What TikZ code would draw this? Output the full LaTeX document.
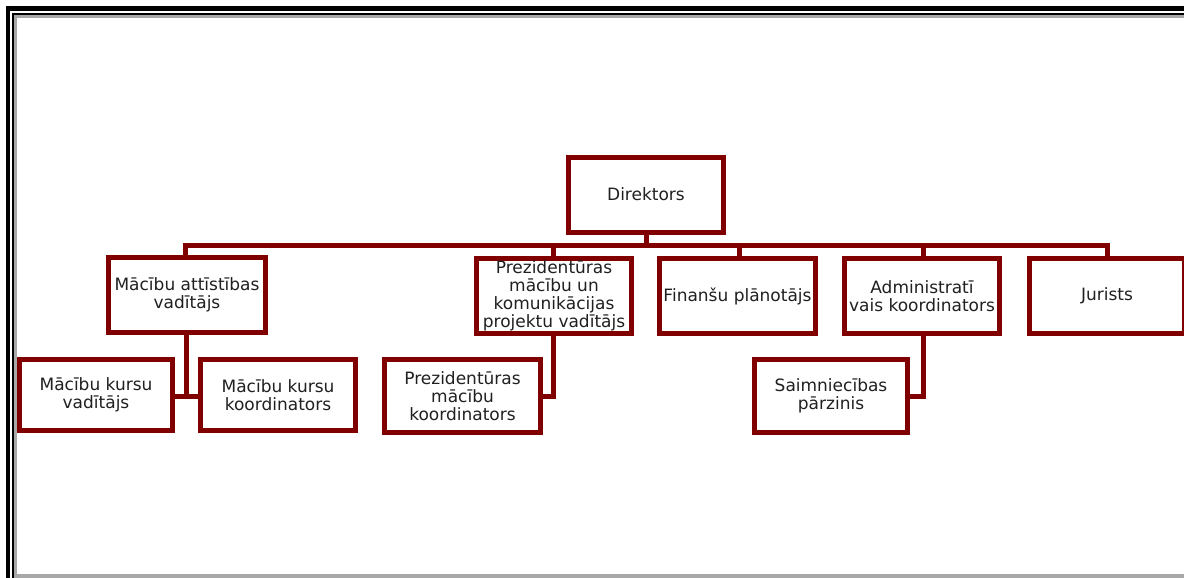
\documentclass[tikz,border=0pt]{standalone}
\usepackage{fontspec}
\setmainfont{DejaVu Sans}
\usetikzlibrary{calc}

\definecolor{boxred}{HTML}{800000}
\definecolor{framegray}{HTML}{A8A8A8}
\definecolor{txtgray}{HTML}{202020}

\tikzset{
    unit/.style={draw=boxred, line width=5pt, fill=white, rectangle,
        minimum width=155pt, minimum height=75pt, inner sep=0.5pt,
        align=center, text=txtgray,
        font=\fontsize{17}{18}\selectfont},
    link/.style={draw=boxred, line width=5pt},
}

\begin{document}
\begin{tikzpicture}[x=1pt, y=-1pt]
    \useasboundingbox (0,0) rectangle (1184,578);

    % page frame
    \draw[line width=4.5pt] (8,6) -- (8,578);
    \draw[line width=4.5pt] (6,8.5) -- (1184,8.5);
    \draw[line width=2pt] (13,13) -- (13,578);
    \draw[line width=2pt] (12,14) -- (1184,14);
    \draw[framegray, line width=3pt] (15.5,15) -- (15.5,578);
    \draw[framegray, line width=3pt] (14,16.5) -- (1184,16.5);
    \draw[framegray, line width=4pt] (14,576) -- (1184,576);

    \coordinate (bar) at (646,245);

    \node[unit] (dir) at (646,194.5) {Direktors};

    \node[unit, minimum width=157pt] (mav) at (187,295) {M\=ac\={\i}bu att\={\i}st\={\i}bas\\vad\={\i}t\=ajs};
    \node[unit, minimum width=155pt] (ppv) at (554,296) {Prezident\=uras\\m\=ac\={\i}bu un\\komunik\=acijas\\projektu vad\={\i}t\=ajs};
    \node[unit, minimum width=156pt] (fin) at (737.5,296) {Finan\v{s}u pl\=anot\=ajs};
    \node[unit] (adm) at (922,296) {Administrat\={\i}\\vais koordinators};
    \node[unit] (jur) at (1107,296) {Jurists};

    \node[unit, minimum width=153pt, minimum height=71pt] (mkv) at (96,395) {M\=ac\={\i}bu kursu\\vad\={\i}t\=ajs};
    \node[unit, minimum width=155pt, minimum height=71pt] (mkk) at (278,395) {M\=ac\={\i}bu kursu\\koordinators};
    \node[unit, minimum width=156pt, minimum height=73pt] (pmk) at (462.5,396) {Prezident\=uras\\m\=ac\={\i}bu\\koordinators};
    \node[unit, minimum width=153pt, minimum height=73pt] (sap) at (831,396) {Saimniec\={\i}bas\\p\=arzinis};

    % top level links
    \draw[link] (dir.south) -- (bar);
    \draw[link] (bar) -| ($(mav.north)+(-1.5,0)$);
    \draw[link] (bar) -| ($(ppv.north)+(-1,0)$);
    \draw[link] (bar) -| ($(fin.north)+(1.5,0)$);
    \draw[link] (bar) -| ($(adm.north)+(1,0)$);
    \draw[link] (bar) -| ($(jur.north)+(0.5,0)$);

    % second level links
    \draw[link] ($(mav.south)+(-1,0)$) |- ($(mkv.east)+(0,1.5)$);
    \draw[link] ($(mav.south)+(-1,0)$) |- ($(mkk.west)+(0,1.5)$);
    \draw[link] ($(ppv.south)+(-1,0)$) |- (pmk.east);
    \draw[link] ($(adm.south)+(1,0)$) |- (sap.east);
\end{tikzpicture}
\end{document}
